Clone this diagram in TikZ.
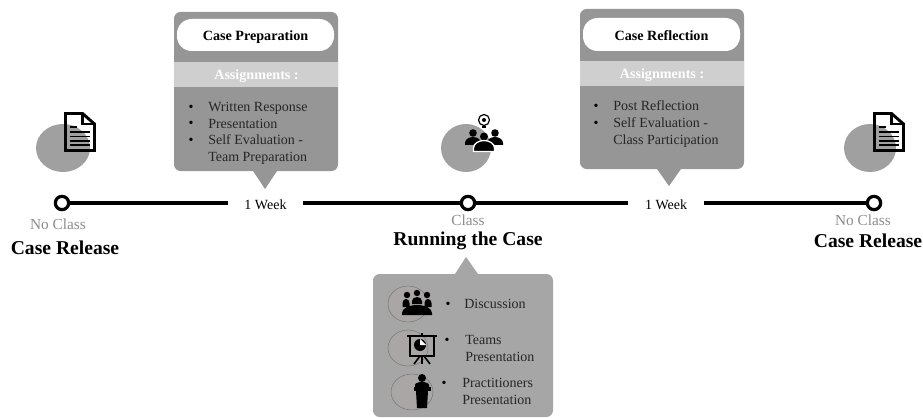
\documentclass[tikz,border=0pt]{standalone}
\usepackage{fontspec}
\setmainfont{Liberation Serif}
\usetikzlibrary{positioning}
\definecolor{boxgray}{HTML}{969696}
\definecolor{bandgray}{HTML}{D0CFD0}
\definecolor{lowgray}{HTML}{A6A6A6}
\definecolor{blobgray}{HTML}{A0A0A0}
\definecolor{ovalgray}{HTML}{ABA6A6}
\definecolor{labelgray}{HTML}{8C8C8C}
\definecolor{inkgray}{HTML}{262626}
\tikzset{
  stop/.style={draw=black,line width=2.4pt,fill=white,circle,inner sep=0pt,minimum size=10pt},
  weeklabel/.style={font=\fontsize{10.5}{12}\selectfont,inner sep=0pt,text=black},
  classlabel/.style={font=\fontsize{11.5}{13}\selectfont,text=labelgray,inner sep=0pt},
  titlelabel/.style={font=\bfseries\fontsize{14.7}{17}\selectfont,text=black,inner sep=0pt},
  pill/.style={fill=white,rounded corners=11pt,inner sep=0pt},
  pilltext/.style={font=\bfseries\fontsize{10.6}{12}\selectfont,inner sep=0pt},
  bandlabel/.style={font=\bfseries\fontsize{10.6}{12}\selectfont,text=white,inner sep=0pt},
  item/.style={font=\fontsize{10.5}{12.75}\selectfont,text=inkgray,inner sep=0pt,anchor=west,align=left},
  dot/.style={font=\fontsize{10.5}{12}\selectfont,text=black,inner sep=0pt},
  oval/.style={draw=gray!85!black,line width=0.3pt,fill=ovalgray},
  track/.style={line width=2.5pt},
}
% document icon, top left corner at (#1,#2)
\newcommand{\docicon}[2]{
\begin{scope}[shift={(#1,#2)}]
\draw[line width=2.2pt,line join=miter] (1.5,1.5)--(18.5,1.5)--(30.5,12)--(30.5,38.5)--(1.5,38.5)--cycle;
\draw[line width=1.6pt] (18.5,1.5)--(18.5,12)--(30.5,12);
\draw[line width=1.2pt] (6,15)--(13,15);
\foreach \y in {20,24.5,29,33}
\draw[line width=1.2pt] (6,\y)--(26,\y);
\end{scope}}
\begin{document}
\begin{tikzpicture}[x=0.75pt,y=-0.75pt]
\useasboundingbox (0,0) rectangle (923,417);
% circles behind the icons
\fill[blobgray] (63,148) ellipse[x radius=27,y radius=24];
\fill[blobgray] (466,148) ellipse[x radius=25,y radius=24];
\fill[blobgray] (870,148) ellipse[x radius=26,y radius=24];
\docicon{64}{112}
\docicon{873}{112}
% people and bulb
\begin{scope}[shift={(484,142)}]
\foreach \x in {-11,11}{
\fill (\x,-9) circle[radius=3.8];
\fill (\x-8,3) -- (\x-8,1) arc[start angle=180,end angle=360,x radius=8,y radius=6] -- (\x+8,3) -- cycle;}
\fill (0,-5.5) circle[radius=4];
\draw[line width=1pt,white,fill=black] (-10.5,9.5) -- (-10.5,6) arc[start angle=180,end angle=360,x radius=10.5,y radius=7.5] -- (10.5,9.5) -- cycle;
\draw[line width=0.9pt] (0,-22) circle[radius=5.5];
\fill (0,-22) circle[radius=2];
\draw[line width=0.9pt] (-2,-15)--(2,-15);
\end{scope}
% case preparation
\fill[boxgray,rounded corners=5pt] (174,12) rectangle (338,171);
\fill[boxgray] (253,171)--(277,171)--(265,189)--cycle;
\fill[bandgray] (174,62) rectangle (338,87);
\node[pill,minimum width=157*0.75pt,minimum height=32*0.75pt] (prep) at (255.5,35) {};
\node[pilltext] at (255.5,37) {Case Preparation};
\node[bandlabel] (prepband) at (256.5,76.5) {Assignments :};
\foreach \y in {108,124,141}
\node[dot] at (191,\y) {•};
\node[item] (written) at (208,108) {Written Response};
\node[item] (present) at (208,123.5) {Presentation};
\node[item] (selfprep) at (208,149.5) {Self Evaluation -\\Team Preparation};
% case reflection
\fill[boxgray,rounded corners=5pt] (580,9) rectangle (744,169);
\fill[boxgray] (657,169)--(681,169)--(669,186)--cycle;
\fill[bandgray] (580,61) rectangle (744,86);
\node[pill,minimum width=157*0.75pt,minimum height=33*0.75pt] (refl) at (661.5,34.5) {};
\node[pilltext] at (661.5,35.5) {Case Reflection};
\node[bandlabel] (reflband) at (662,75) {Assignments :};
\foreach \y in {107.5,124}
\node[dot] at (596,\y) {•};
\node[item] (post) at (613,105.5) {Post Reflection};
\node[item] (selfrefl) at (613,132.5) {Self Evaluation -\\Class Participation};
% timeline
\node[stop] (release) at (62,203) {};
\node[weeklabel,minimum width=75*0.75pt] (weekone) at (265.5,205) {1 Week};
\node[stop] (running) at (468,203) {};
\node[weeklabel,minimum width=76*0.75pt] (weektwo) at (666,205) {1 Week};
\node[stop] (again) at (874,203) {};
\draw[track] (release)--(weekone.west |- release);
\draw[track] (weekone.east |- running)--(running);
\draw[track] (running)--(weektwo.west |- running);
\draw[track] (weektwo.east |- again)--(again);
\node[classlabel] at (58,224) {No Class};
\node[titlelabel] at (65,248) {Case Release};
\node[classlabel] at (468,220) {Class};
\node[titlelabel] at (468,241) {Running the Case};
\node[classlabel] at (863,220) {No Class};
\node[titlelabel] at (868,241) {Case Release};
% running the case
\fill[lowgray] (455,274)--(478,274)--(466,257)--cycle;
\fill[lowgray,rounded corners=5pt] (373,274) rectangle (553,417);
\draw[oval] (408,304) ellipse[x radius=20,y radius=18];
\draw[oval] (408,348) ellipse[x radius=20,y radius=18];
\draw[oval] (412,392) ellipse[x radius=21,y radius=18];
% discussion icon
\begin{scope}[shift={(417,304)}]
\foreach \x in {-10,0,10}
\fill (\x,{-9-(\x==0)*2}) circle[radius=3.2];
\foreach \x in {-11,11}
\fill (\x-3.5,3) -- (\x-3.5,-1) arc[start angle=180,end angle=360,x radius=3.5,y radius=4] -- (\x+3.5,3) -- cycle;
\fill (-5,0) -- (-5,-3) arc[start angle=180,end angle=360,x radius=5,y radius=4] -- (5,0) -- cycle;
\fill (-15,11) -- (-15,9) arc[start angle=180,end angle=360,x radius=15,y radius=8] -- (15,11) -- cycle;
\end{scope}
% presentation icon
\begin{scope}[shift={(422,347)}]
\draw[line width=1.8pt] (-15,-11)--(15,-11);
\draw[line width=1.2pt] (0,-14)--(0,-11);
\draw[line width=1.8pt] (-12,-11) rectangle (12,9);
\fill (-2,-2) circle[radius=6];
\fill[white] (-2,-2) -- (-2,-8) -- (4,-2) -- cycle;
\draw[line width=1.2pt] (-2,9)--(-8,17);
\draw[line width=1.2pt] (2,9)--(8,17);
\draw[line width=1.2pt] (0,9)--(0,17);
\end{scope}
% speaker icon
\begin{scope}[shift={(422,392)}]
\fill (0,-14) circle[radius=4];
\fill (-7,-5) -- (-7,-7) arc[start angle=180,end angle=360,x radius=7,y radius=3] -- (7,-5) -- cycle;
\fill (-8.5,-5) rectangle (8.5,-1);
\fill (-6,-1) -- (6,-1) -- (5,16) -- (-5,16) -- cycle;
\end{scope}
\foreach \x/\y in {448/305,447/341,444/384}
\node[dot] at (\x,\y) {•};
\node[item] (discuss) at (464,304) {Discussion};
\node[item] (teams) at (465,348.5) {Teams\\Presentation};
\node[item] (pract) at (462,391.5) {Practitioners\\Presentation};
\end{tikzpicture}
\end{document}
